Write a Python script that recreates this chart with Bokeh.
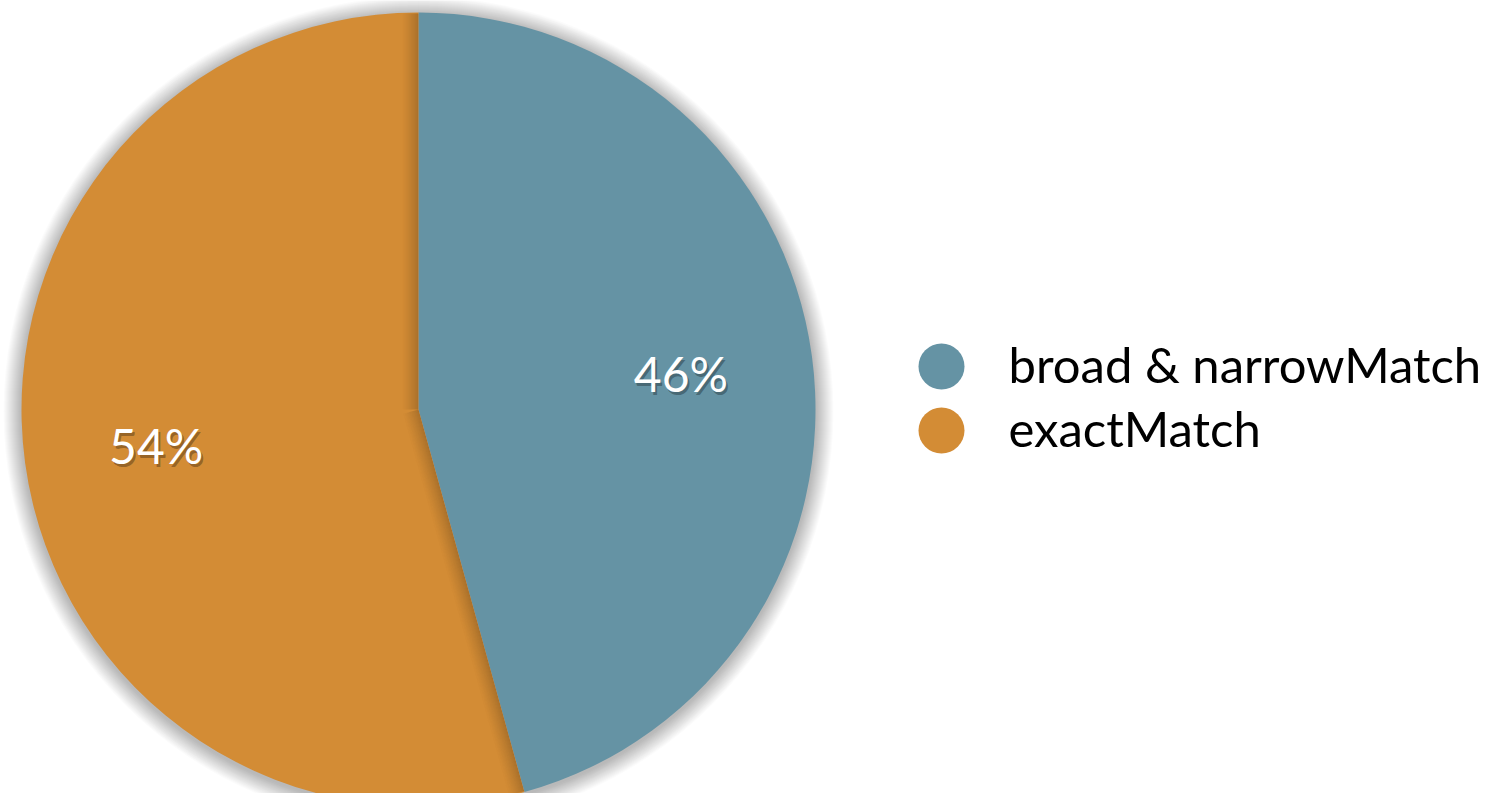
import numpy as np
from bokeh.plotting import figure
from bokeh.models import Range1d
from bokeh.core.properties import value
from bokeh.embed import file_html
from bokeh.resources import INLINE

categories = ["broad & narrowMatch", "exactMatch"]
shares = [45.7, 54.3]
colors = ["#6593a4", "#d38c35"]
labels = ["46%", "54%"]

W, H = 1485, 793
REF_H = 809
p = figure(width=W, height=H, output_backend="svg", toolbar_location=None,
           x_range=Range1d(0, W), y_range=Range1d(REF_H - H, REF_H),
           min_border=0)
p.axis.visible = False
p.grid.visible = False
p.outline_line_color = None
p.background_fill_color = "white"
p.border_fill_color = "white"

cx, cy, R = 418, REF_H - 409, 397

# soft shadow around the pie
N = 18
for k in range(N, 0, -1):
    p.circle(x=[cx], y=[cy - 2], radius=R + k, fill_color="#000000",
             fill_alpha=0.017, line_color=None)

vals = np.array(shares, dtype=float)
fr = vals / vals.sum()
ends = np.pi / 2 - 2 * np.pi * np.cumsum(fr)
starts = np.concatenate([[np.pi / 2], ends[:-1]])
p.wedge(x=cx, y=cy, radius=R, start_angle=starts, end_angle=ends,
        direction="clock", fill_color=colors, line_color=None)

# shadow on orange side of both boundaries
b1 = starts[0]
b2 = ends[0]
M = 17
for ang, perp in [(b1, b1 + np.pi / 2), (b2, b2 - np.pi / 2)]:
    for k in range(0, M):
        ox = cx + (k + 0.5) * np.cos(perp)
        oy = cy + (k + 0.5) * np.sin(perp)
        p.ray(x=[ox], y=[oy], length=R - 1, angle=ang, line_color="#000000",
              line_alpha=0.2 * (1 - k / M) ** 1.4, line_width=1)

# percentage labels
mid = (starts + ends) / 2
lr = 0.667 * R
lx = cx + lr * np.cos(mid)
ly = cy + lr * np.sin(mid)
p.text(x=lx + 2, y=ly - 3, text=labels, text_color="#000000", text_alpha=0.3,
       text_font=value("Lato"), text_font_size="48px", text_align="center",
       text_baseline="middle")
p.text(x=lx, y=ly, text=labels, text_color="white",
       text_font=value("Lato"), text_font_size="48px", text_align="center",
       text_baseline="middle")

# legend
leg_y = [REF_H - 366, REF_H - 430]
p.circle(x=[941, 941], y=leg_y, radius=23, fill_color=colors, line_color=None)
p.text(x=[1008, 1008], y=[v + 3 for v in leg_y], text=categories,
       text_color="#000000", text_font=value("Lato"), text_font_size="49px",
       text_align="left", text_baseline="middle")

open("out.html", "w").write(file_html(p, INLINE))
